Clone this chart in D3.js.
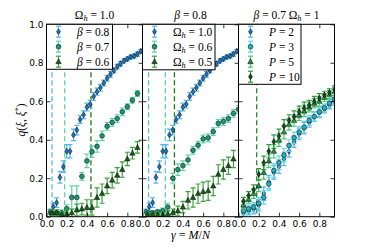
<!DOCTYPE html>
<html><head><meta charset="utf-8">
<script src="https://cdn.jsdelivr.net/npm/d3@7"></script>
<style>body{margin:0;background:#fff} svg{display:block}</style>
</head><body><svg id="c" width="372" height="248"></svg>
<script>
// ---------- data ----------
const gammaFine = [0.033,0.067,0.1,0.133,0.167,0.2,0.233,0.267,0.3,0.333,0.367,0.4,0.433,0.467,0.5,0.533,0.567,0.6,0.633,0.667,0.7,0.733,0.767,0.8,0.833,0.867,0.9,0.933];
const gammaCoarse = [0.05,0.1,0.15,0.2,0.25,0.3,0.35,0.4,0.45,0.5,0.55,0.6,0.65,0.7,0.75,0.8,0.85,0.9];
const gammaP = [0.05,0.1,0.15,0.2,0.25,0.3,0.35,0.4,0.45,0.5,0.55,0.6,0.65,0.7,0.75,0.8,0.85,0.9,0.95];
const xTicks = [0,0.2,0.4,0.6,0.8];
const yTicks = [0,0.2,0.4,0.6,0.8,1.0];

// beta=0.8, Omega_h=1.0 (same in panels 1 and 2)
const qB08 = [0.026,0.052,0.073,0.205,0.26,0.34,0.34,0.425,0.45,0.505,0.53,0.57,0.585,0.625,0.65,0.67,0.695,0.72,0.74,0.76,0.78,0.795,0.81,0.82,0.83,0.835,0.845,0.86];
const eB08 = [0.012,0.02,0.025,0.03,0.03,0.035,0.035,0.03,0.025,0.02,0.02,0.02,0.02,0.02,0.018,0.018,0.015,0.015,0.015,0.012,0.012,0.012,0.01,0.01,0.01,0.01,0.01,0.01];
// panel 1
const qB07 = [0.02,0.02,0.02,0.042,0.1,0.1,0.21,0.29,0.338,0.365,0.42,0.47,0.49,0.51,0.545,0.572,0.605,0.64];
const eB07 = [0.01,0.01,0.015,0.02,0.06,0.06,0.02,0.035,0.03,0.03,0.025,0.02,0.02,0.02,0.02,0.015,0.015,0.015];
const qB06 = [0.02,0.02,0.01,0.015,0.02,0.035,0.04,0.048,0.048,0.1,0.12,0.16,0.19,0.215,0.245,0.3,0.33,0.36];
const eB06 = [0.015,0.015,0.015,0.02,0.02,0.03,0.03,0.04,0.04,0.05,0.05,0.04,0.04,0.04,0.04,0.035,0.03,0.03];
// panel 2
const qO06 = [0.02,0.02,0.025,0.03,0.05,0.2,0.245,0.265,0.295,0.345,0.372,0.404,0.41,0.442,0.485,0.495,0.51,0.537,0.558];
const eO06 = [0.01,0.01,0.01,0.015,0.02,0.025,0.03,0.025,0.025,0.02,0.02,0.02,0.02,0.02,0.02,0.02,0.02,0.02,0.02];
const qO05 = [0.01,0.01,0.01,0.01,0.015,0.02,0.03,0.05,0.085,0.1,0.12,0.13,0.135,0.16,0.22,0.245,0.265,0.3];
const eO05 = [0.01,0.01,0.01,0.01,0.015,0.02,0.025,0.03,0.045,0.05,0.05,0.05,0.05,0.05,0.05,0.05,0.045,0.045];
// panel 3
const qP2  = [0.02,0.03,0.04,0.06,0.12,0.18,0.23,0.26,0.3,0.34,0.39,0.43,0.46,0.49,0.52,0.54,0.56,0.58,0.6];
const qP3  = [0.03,0.04,0.05,0.07,0.1,0.17,0.24,0.28,0.32,0.37,0.41,0.44,0.465,0.5,0.52,0.545,0.565,0.59,0.61];
const qP5  = [0.06,0.09,0.12,0.16,0.23,0.29,0.34,0.4,0.44,0.48,0.5,0.53,0.55,0.57,0.59,0.6,0.62,0.635,0.65];
const qP10 = [0.08,0.11,0.14,0.22,0.28,0.34,0.39,0.42,0.47,0.5,0.52,0.545,0.565,0.58,0.6,0.615,0.632,0.645,0.66];
const eP   = [0.02,0.02,0.025,0.03,0.035,0.035,0.035,0.035,0.035,0.03,0.03,0.03,0.03,0.025,0.025,0.025,0.02,0.02,0.02];
const vlines1 = [0.055,0.18,0.44];
const vlines2 = [0.06,0.226,0.316];
const vlines3 = [0.18];

// ---------- styles ----------
const C = {
  blue:  {bar:"#55b6ec", fill:"#1f74bb", mark:"diamond"},
  teal:  {bar:"#5fd3a6", fill:"#189a70", mark:"circle"},
  green: {bar:"#3aa43a", fill:"#175f17", mark:"triangle"},
  cyan:  {bar:"#5cd6e6", fill:"#1fb0c2", mark:"circle"},
  green5:{bar:"#4cc27a", fill:"#238a48", mark:"triangle"},
  dgreen:{bar:"#2c9a3a", fill:"#0f5214", mark:"diamond"}
};
const zip = (xs, ys, es) => xs.map((x,i)=>({x, y:ys[i], e:es[i]}));

const panels = [
  {title:[["Ω",""],["h","sub"],[" = 1.0",""]], vlines:vlines1, vcol:[C.blue.bar,C.teal.bar,"#1c7a1c"],
   series:[
     {st:C.blue, data:zip(gammaFine,qB08,eB08), label:[["β","i"],[" = 0.8",""]]},
     {st:C.teal, data:zip(gammaCoarse,qB07,eB07), label:[["β","i"],[" = 0.7",""]]},
     {st:C.green,data:zip(gammaCoarse,qB06,eB06), label:[["β","i"],[" = 0.6",""]]}],
   legW:66, legH:45},
  {title:[["β","i"],[" = 0.8",""]], vlines:vlines2, vcol:[C.blue.bar,C.teal.bar,"#1c7a1c"],
   series:[
     {st:C.blue, data:zip(gammaFine,qB08,eB08), label:[["Ω",""],["h","sub"],[" = 1.0",""]]},
     {st:C.teal, data:zip(gammaP,qO06,eO06), label:[["Ω",""],["h","sub"],[" = 0.6",""]]},
     {st:C.green,data:zip(gammaCoarse,qO05,eO05), label:[["Ω",""],["h","sub"],[" = 0.5",""]]}],
   legW:72.5, legH:45.5},
  {title:[["β","i"],[" = 0.7 ",""],["Ω",""],["h","sub"],[" = 1",""]], vlines:vlines3, vcol:["#1c8a2c"],
   series:[
     {st:C.blue,  data:zip(gammaP,qP2,eP),  label:[["P","i"],[" = 2",""]]},
     {st:C.cyan,  data:zip(gammaP,qP3,eP),  label:[["P","i"],[" = 3",""]]},
     {st:C.green5,data:zip(gammaP,qP5,eP),  label:[["P","i"],[" = 5",""]]},
     {st:C.dgreen,data:zip(gammaP,qP10,eP), label:[["P","i"],[" = 10",""]]}],
   legW:62.5, legH:60}
];

// ---------- layout ----------
const W = 96, H = 192.4, TOP = 24.3, lefts = [46.5,142.5,238.5];
const x = d3.scaleLinear().domain([0,0.95]).range([0,W]);
const y = d3.scaleLinear().domain([0,1]).range([H,0]);
const svg = d3.select("#c");
const SERIF = "'Liberation Serif','DejaVu Serif',serif";
const SANS = "'DejaVu Sans',sans-serif";

function mathText(sel, parts, size){
  parts.forEach(([t,k])=>{
    const s = sel.append("tspan").text(t);
    if(k==="i") s.attr("font-style","italic");
    if(k==="sub"){ s.attr("font-style","italic").attr("font-size",size*0.72).attr("dy",size*0.22); }
    else if(sel.selectAll("tspan").size()>1){
      const prev = sel.selectAll("tspan").nodes();
      const p = d3.select(prev[prev.length-2]);
      if(p.attr("dy")) s.attr("dy",-size*0.22);
    }
  });
}

function marker(g, st, cx, cy){
  if(st.mark==="circle"){
    g.append("circle").attr("cx",cx).attr("cy",cy).attr("r",2.4)
     .attr("fill",st.fill).attr("stroke","#000").attr("stroke-width",0.5);
  } else if(st.mark==="diamond"){
    g.append("path").attr("d",`M${cx},${cy-3}L${cx+2},${cy}L${cx},${cy+3}L${cx-2},${cy}Z`)
     .attr("fill",st.fill).attr("stroke","#000").attr("stroke-width",0.5);
  } else {
    g.append("path").attr("d",`M${cx},${cy-3}L${cx+2.7},${cy+2}L${cx-2.7},${cy+2}Z`)
     .attr("fill",st.fill).attr("stroke","#000").attr("stroke-width",0.5);
  }
}
function errbar(g, col, cx, y0, y1){
  g.append("line").attr("x1",cx).attr("x2",cx).attr("y1",y0).attr("y2",y1).attr("stroke",col).attr("stroke-width",1.2);
  [y0,y1].forEach(v=>g.append("line").attr("x1",cx-2.5).attr("x2",cx+2.5).attr("y1",v).attr("y2",v).attr("stroke",col).attr("stroke-width",1.2));
}

panels.forEach((p,pi)=>{
  const g = svg.append("g").attr("transform",`translate(${lefts[pi]},${TOP})`);
  const cid = "clip"+pi;
  g.append("clipPath").attr("id",cid).append("rect").attr("x",0).attr("y",0).attr("width",W).attr("height",H);
  const plot = g.append("g").attr("clip-path",`url(#${cid})`);

  // dashed vertical lines
  p.vlines.forEach((v,i)=>{
    plot.append("line").attr("x1",x(v)).attr("x2",x(v)).attr("y1",0).attr("y2",H)
      .attr("stroke",p.vcol[i]).attr("stroke-width",1.3).attr("stroke-dasharray","5,3");
  });
  // series
  p.series.forEach(s=>{
    const sg = plot.append("g");
    s.data.forEach(d=>errbar(sg, s.st.bar, x(d.x), y(d.y-d.e), y(d.y+d.e)));
    s.data.forEach(d=>marker(sg, s.st, x(d.x), y(d.y)));
  });

  // axes (ticks inward)
  const ax = g.append("g").attr("transform",`translate(0,${H})`)
    .call(d3.axisBottom(x).tickValues(xTicks).tickSize(-4).tickPadding(4).tickFormat(d3.format(".1f")));
  const axTop = g.append("g").call(d3.axisTop(x).tickValues(xTicks).tickSize(-4).tickFormat(""));
  const ay = g.append("g").call(d3.axisLeft(y).tickValues(yTicks).tickSize(-4).tickPadding(3)
     .tickFormat(pi===0 ? d3.format(".1f") : ""));
  const ayR = g.append("g").attr("transform",`translate(${W},0)`)
     .call(d3.axisRight(y).tickValues(yTicks).tickSize(-4).tickFormat(""));
  [ax,axTop,ay,ayR].forEach(a=>{
    a.select(".domain").remove();
    a.selectAll("line").attr("stroke","#000").attr("stroke-width",0.8);
    a.selectAll("text").attr("font-family",SANS).attr("font-size",9).attr("fill","#000");
  });
  g.append("rect").attr("x",0).attr("y",0).attr("width",W).attr("height",H)
    .attr("fill","none").attr("stroke","#000").attr("stroke-width",1);

  // title
  const t = g.append("text").attr("x",W/2).attr("y",-5.5).attr("text-anchor","middle")
    .attr("font-family",SERIF).attr("font-size",11.5);
  mathText(t, p.title, 11.5);

  // legend
  const lg = g.append("g");
  lg.append("rect").attr("x",0).attr("y",0).attr("width",p.legW).attr("height",p.legH)
    .attr("fill","#fff").attr("stroke","#000").attr("stroke-width",1);
  p.series.forEach((s,i)=>{
    const cy = 7.4 + i*15;
    errbar(lg, s.st.bar, 12, cy-5.5, cy+5.5);
    marker(lg, s.st, 12, cy);
    const tx = lg.append("text").attr("x",30.5).attr("y",cy+4).attr("font-family",SERIF).attr("font-size",11.5);
    mathText(tx, s.label, 11.5);
  });
});

// axis labels
const yl = svg.append("text").attr("transform",`translate(25,120) rotate(-90)`).attr("text-anchor","middle")
  .attr("font-family",SERIF).attr("font-size",11.5);
yl.append("tspan").attr("font-style","italic").text("q");
yl.append("tspan").text("(");
yl.append("tspan").attr("font-style","italic").text("ξ");
yl.append("tspan").text(", ");
yl.append("tspan").attr("font-style","italic").text("ξ");
yl.append("tspan").attr("font-size",8).attr("dy",-4).text("*");
yl.append("tspan").attr("dy",4).text(")");

const xl = svg.append("text").attr("x",lefts[1]+W/2).attr("y",239).attr("text-anchor","middle")
  .attr("font-family",SERIF).attr("font-size",12);
xl.append("tspan").attr("font-style","italic").text("γ");
xl.append("tspan").text(" = ");
xl.append("tspan").attr("font-style","italic").text("M");
xl.append("tspan").text("/");
xl.append("tspan").attr("font-style","italic").text("N");
</script>
</body></html>
